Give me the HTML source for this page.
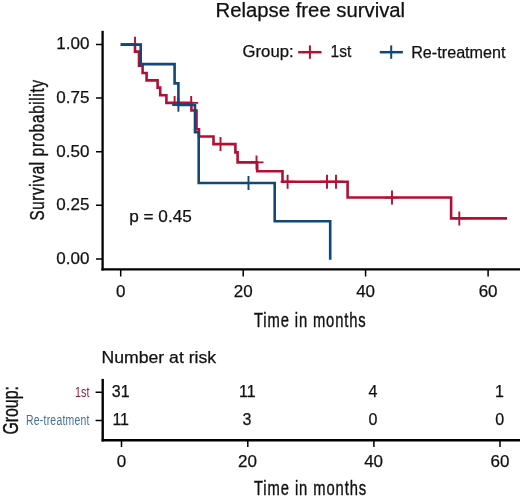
<!DOCTYPE html>
<html><head><meta charset="utf-8"><title>Relapse free survival</title>
<style>
html,body{margin:0;padding:0;background:#fff;width:520px;height:500px;overflow:hidden}
svg{display:block;will-change:transform}
text{font-family:"Liberation Sans",sans-serif;fill:#111;stroke:#111;stroke-width:0.25px}
.t16{font-size:16px}
.cond{font-size:20.5px;stroke:#111;stroke-width:0.4px}
</style></head><body>
<svg width="520" height="500" viewBox="0 0 520 500">
<rect x="0" y="0" width="520" height="500" fill="#fff"/>
<!-- title -->
<text x="215.6" y="17" font-size="20" textLength="189.5" lengthAdjust="spacingAndGlyphs">Relapse free survival</text>

<!-- legend -->
<text class="t16" x="242.6" y="57" textLength="51" lengthAdjust="spacingAndGlyphs">Group:</text>
<g stroke="#B01034" stroke-width="2.5" fill="none">
<path d="M298.2,52.2H321.5"/><path d="M309.9,45.4V58.8" stroke-width="2"/>
</g>
<text class="t16" x="330.6" y="57" textLength="20.7" lengthAdjust="spacingAndGlyphs">1st</text>
<g stroke="#114878" stroke-width="2.5" fill="none">
<path d="M379.8,52.2H402.9"/><path d="M391.2,45.4V58.8" stroke-width="2"/>
</g>
<text class="t16" x="411.2" y="57.5" textLength="94.4" lengthAdjust="spacingAndGlyphs">Re-treatment</text>

<!-- axes main -->
<g stroke="#000" fill="none">
<path d="M102.6,30.8V270.5" stroke-width="2.3"/>
<path d="M101.45,269.35H520" stroke-width="2.3"/>
<path d="M96,44.6H102M96,98.1H102M96,151.7H102M96,205.3H102M96,259H102" stroke-width="1.5"/>
<path d="M120.7,270V276.5M243.2,270V276.5M365.6,270V276.5M488.1,270V276.5" stroke-width="1.5"/>
</g>
<g font-size="17" text-anchor="end">
<text x="89.4" y="49.4">1.00</text>
<text x="89.4" y="102.9">0.75</text>
<text x="89.4" y="156.5">0.50</text>
<text x="89.4" y="210.1">0.25</text>
<text x="89.4" y="263.8">0.00</text>
</g>
<g font-size="17" text-anchor="middle">
<text x="120.7" y="296.8">0</text>
<text x="243.2" y="296.8">20</text>
<text x="365.6" y="296.8">40</text>
<text x="488.1" y="296.8">60</text>
</g>
<text class="cond" transform="translate(254.0,327.2) scale(0.72,1)" textLength="155.2" lengthAdjust="spacing">Time in months</text>
<text class="cond" transform="translate(44,220.6) rotate(-90) scale(0.74,1)" x="0" y="0" textLength="190" lengthAdjust="spacing">Survival probability</text>

<!-- p value -->
<text font-size="17" x="129.2" y="221.5" textLength="62.6" lengthAdjust="spacingAndGlyphs">p = 0.45</text>

<!-- curves -->
<g fill="none" stroke-width="2.6" stroke-linejoin="miter" stroke-linecap="butt">
<path stroke="#B01034" d="M120.7,44.6H135V51.6H139V65.6H142.6V73H146.6V80.4H157.6V87.6H160.2V95.3H166.4V102.9H191.4V110.5H196.5V129.2H199V136.5H213.5V144.1H235.4V152.4H237.6V162.4H257.2V171.3H282.5V181.7H347.6V197.5H451.1V218.4H507"/>
<path stroke="#B01034" stroke-width="1.9" d="M128,44.6H142M135,36.8V51.6 M167.6,102.9H181.6M174.6,95.9V102.9 M184.2,102.9H198.2M191.2,95.9V103 M213.5,144.1H227.5M220.5,137.1V151.1 M249.5,162.4H263.5M256.5,155.4V169.4 M280.6,181.7H294.6M287.6,174.7V188.7 M320,181.7H334M327,174.7V188.7 M329,181.7H343M336,174.7V188.7 M385,197.6H399M392,190.6V204.6 M452.3,218.4H466.3M459.3,211.4V225.4"/>
<path stroke="#114878" d="M120.7,44.6H140.7V64.1H174.6V83.4H178.4V105H195V132.2H198.7V183H274.7V221.2H330.2V259.8"/>
<path stroke="#114878" stroke-width="1.9" d="M172.2,105H185.4M178.4,98V111.8 M241.5,183H255.5M248.5,176V190"/>
</g>

<!-- risk table -->
<text class="t16" x="101.6" y="363.2" textLength="114.5" lengthAdjust="spacingAndGlyphs">Number at risk</text>
<g stroke="#000" fill="none">
<path d="M102.7,378.9V441.4" stroke-width="2.4"/>
<path d="M101.6,440.2H520" stroke-width="2.4"/>
<path d="M95.6,392.2H102M95.6,420.5H102" stroke-width="1.5"/>
<path d="M121.5,441V447M247.8,441V447M373.9,441V447M500,441V447" stroke-width="1.5"/>
</g>
<text transform="translate(89.4,397) scale(0.74,1)" x="0" y="0" font-size="14.5" style="fill:#8C1C38;stroke:none" text-anchor="end" textLength="19.4" lengthAdjust="spacing">1st</text>
<text transform="translate(89.4,425) scale(0.72,1)" x="0" y="0" font-size="14.5" style="fill:#44709A;stroke:none" text-anchor="end" textLength="88" lengthAdjust="spacing">Re-treatment</text>
<text class="cond" style="font-size:22px" transform="translate(18,434.6) rotate(-90)" x="0" y="0" textLength="48.5" lengthAdjust="spacingAndGlyphs">Group:</text>
<g class="t16" text-anchor="middle">
<text x="120.7" y="397.2">31</text>
<text x="247.4" y="397.2">11</text>
<text x="372.9" y="397.2">4</text>
<text x="499.5" y="397.2">1</text>
<text x="120.7" y="425.2">11</text>
<text x="247.0" y="425.2">3</text>
<text x="372.9" y="425.2">0</text>
<text x="499.8" y="425.2">0</text>
<g font-size="17">
<text x="121.5" y="467.4">0</text>
<text x="247.4" y="467.4">20</text>
<text x="373.6" y="467.4">40</text>
<text x="500" y="467.4">60</text>
</g>
</g>
<text class="cond" transform="translate(254.0,494.5) scale(0.72,1)" textLength="155.8" lengthAdjust="spacing">Time in months</text>
</svg>
</body></html>
